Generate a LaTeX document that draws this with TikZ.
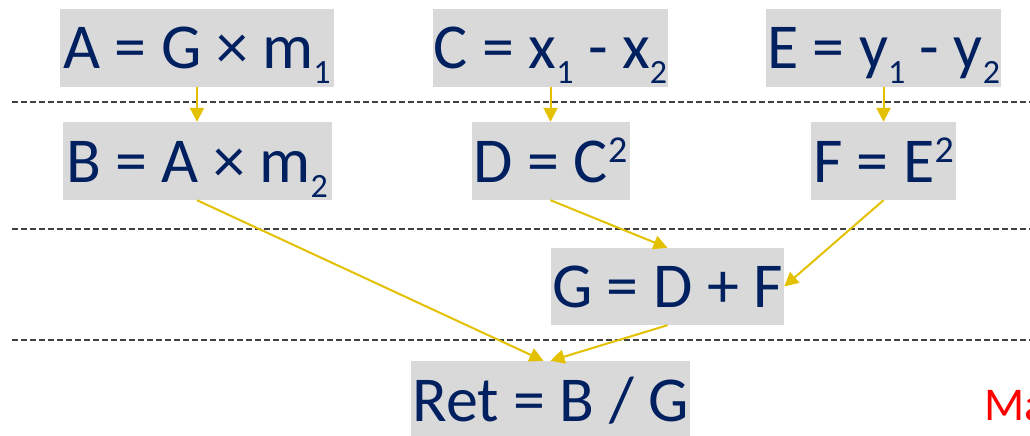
\documentclass[tikz,border=0pt]{standalone}
\usepackage{fontspec}
\setmainfont{Carlito}
\usetikzlibrary{arrows.meta}
\definecolor{navy}{HTML}{002060}
\definecolor{boxgray}{HTML}{D9D9D9}
\definecolor{gold}{HTML}{E3C000}
\definecolor{rulegray}{HTML}{404040}
\newcommand\lo[1]{\raisebox{-15pt}{\fontsize{34}{34}\selectfont #1}}
\newcommand\hi[1]{\raisebox{20pt}{\fontsize{38}{38}\selectfont #1}}
\begin{document}
\begin{tikzpicture}[x=1pt,y=-1pt,every node/.style={text=navy},
  eq/.style={fill=boxgray,inner sep=0pt,minimum height=78pt,text height=42pt,text depth=0pt,font=\fontsize{64}{70}\selectfont},
  flow/.style={draw=gold,line width=2pt,-{Triangle[length=14pt,width=14pt]}}]
\useasboundingbox (0,0) rectangle (1030,436);
% stage separators
\foreach \y in {102,229,340}{\draw[rulegray,line width=1.2pt,dash pattern=on 5.5pt off 3.5pt] (12,\y) -- (1030,\y);}
% first stage
\node[eq,minimum width=274pt] (A) at (197,48) {A = G × m\lo{1}};
\node[eq,minimum width=235pt] (C) at (550.5,48) {C = x\lo{1} - x\lo{2}};
\node[eq,minimum width=235pt] (E) at (883.5,48) {E = y\lo{1} - y\lo{2}};
% second stage
\node[eq,minimum width=269pt] (B) at (197,161) {B = A × m\lo{2}};
\node[eq,minimum width=158pt] (D) at (550.5,161) {D = C\hi{2}};
\node[eq,minimum width=145pt] (F) at (883.5,161) {F = E\hi{2}};
% third and last stage
\node[eq,minimum width=233pt,minimum height=77pt] (G) at (667.5,286.5) {G = D + F};
\node[eq,minimum width=279pt] (Ret) at (550.5,400) {Ret = B / G};
\node[anchor=base west,text=red,font=\fontsize{47}{50}\selectfont] (ma) at (981,420) {Ma};
% data flow
\draw[flow] (A.south) -- (B.north);
\draw[flow] (C.south) -- (D.north);
\draw[flow] (E.south) -- (F.north);
\draw[flow] (B.south) -- ([xshift=-7pt]Ret.north);
\draw[flow] (D.south) -- (G.north);
\draw[flow] (F.south) -- (G.east);
\draw[flow] (G.south) -- (Ret.north);
\end{tikzpicture}
\end{document}
